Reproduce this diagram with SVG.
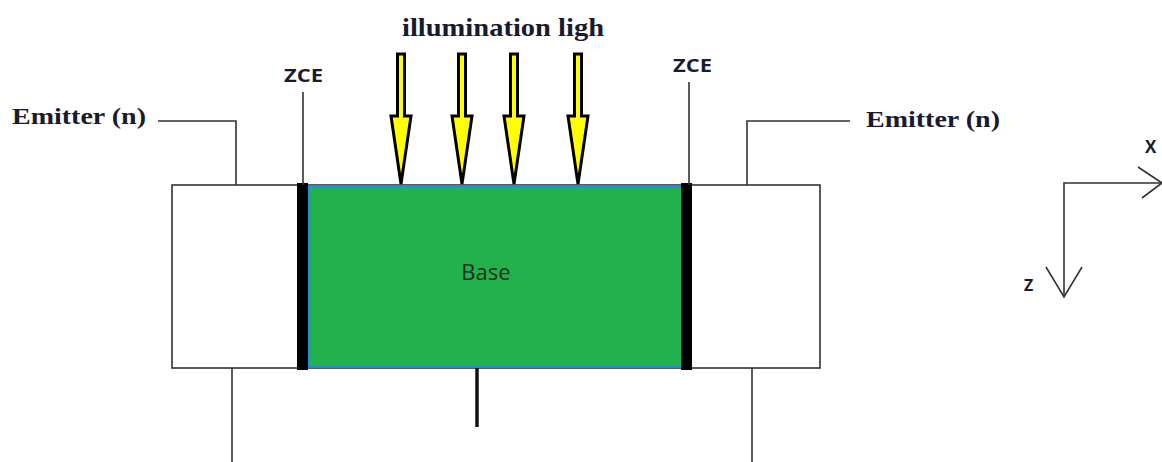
<svg xmlns="http://www.w3.org/2000/svg" width="1162" height="462" viewBox="0 0 1162 462">
<defs>
<style>
.ln{stroke:#333;stroke-width:1.6;fill:none}
.serif{font-family:"Liberation Serif","DejaVu Serif",serif;font-weight:bold;fill:#1a1a2e}
.sans{font-family:"Open Sans","Liberation Sans",sans-serif;font-weight:bold;fill:#1a1a2e}
.arrow{fill:#ffff00;stroke:#000;stroke-width:3;stroke-linejoin:miter}
</style>
<symbol id="ray" overflow="visible">
<path class="arrow" d="M-3.5,0 H3.5 V62 H10 L0,130 L-10,62 H-3.5 Z"/>
</symbol>
</defs>
<rect width="1162" height="462" fill="#fff"/>
<g id="device">
<rect x="172" y="185" width="648" height="183" fill="#fff" stroke="#333" stroke-width="1.6"/>
<rect id="base" x="308" y="186" width="378" height="181" fill="#22b14c" stroke="#1a8be0" stroke-width="2"/>
<rect x="297" y="183" width="11" height="187" fill="#000"/>
<rect x="681" y="183" width="11" height="187" fill="#000"/>
<text x="486" y="280" font-family="Open Sans,Liberation Sans,sans-serif" font-size="22" fill="#1c2e1e" text-anchor="middle">Base</text>
</g>
<g id="connectors">
<polyline class="ln" points="158,121 236,121 236,185"/>
<polyline class="ln" points="850,121 747,121 747,185"/>
<line class="ln" x1="303" y1="92" x2="303" y2="185"/>
<line class="ln" x1="689" y1="82" x2="689" y2="185"/>
<line class="ln" x1="232" y1="368" x2="232" y2="462"/>
<line class="ln" x1="752" y1="368" x2="752" y2="462"/>
<line x1="477" y1="368" x2="477" y2="427" stroke="#111" stroke-width="3.5"/>
</g>
<g id="light">
<use href="#ray" x="401" y="54"/>
<use href="#ray" x="462" y="54"/>
<use href="#ray" x="514" y="54"/>
<use href="#ray" x="578" y="54"/>
<text class="serif" x="503" y="36" font-size="25" text-anchor="middle" textLength="202" lengthAdjust="spacingAndGlyphs">illumination ligh</text>
</g>
<g id="labels">
<text class="serif" x="12" y="124" font-size="23" textLength="134" lengthAdjust="spacingAndGlyphs">Emitter (n)</text>
<text class="serif" x="866" y="127" font-size="23" textLength="134" lengthAdjust="spacingAndGlyphs">Emitter (n)</text>
<text class="sans" x="284" y="82" font-size="18" textLength="39" lengthAdjust="spacingAndGlyphs">ZCE</text>
<text class="sans" x="673" y="72" font-size="18" textLength="39" lengthAdjust="spacingAndGlyphs">ZCE</text>
</g>
<g id="axes">
<polyline class="ln" points="1162,183 1064,183 1064,297"/>
<polyline class="ln" points="1138,167 1162,183 1142,198"/>
<polyline class="ln" points="1046,267 1064,297 1082,267"/>
<text class="sans" x="1145" y="153" font-size="17">X</text>
<text class="sans" x="1024" y="291" font-size="16">Z</text>
</g>
</svg>
